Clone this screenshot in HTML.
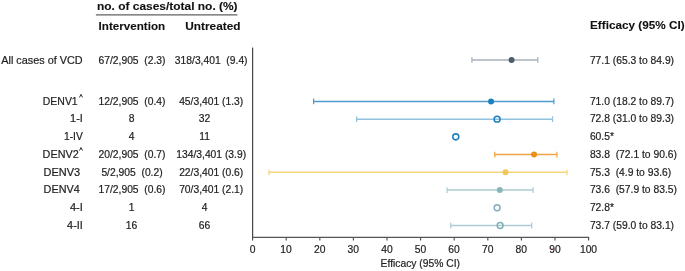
<!DOCTYPE html>
<html><head><meta charset="utf-8"><style>
html,body{margin:0;padding:0;background:#fff;}
svg{display:block;will-change:transform;font-family:"Liberation Sans",sans-serif;}
</style></head><body>
<svg width="685" height="271" viewBox="0 0 685 271">
<text x="97.00" y="9.90" font-size="11.4" font-weight="bold" text-anchor="start" fill="#111" stroke="#111" stroke-width="0.1" textLength="140.6" lengthAdjust="spacingAndGlyphs" >no. of cases/total no. (%)</text>
<line x1="95.9" y1="14.8" x2="237.4" y2="14.8" stroke="#606060" stroke-width="1.3"/>
<text x="98.60" y="29.60" font-size="11.4" font-weight="bold" text-anchor="start" fill="#111" stroke="#111" stroke-width="0.1" textLength="66.6" lengthAdjust="spacingAndGlyphs" >Intervention</text>
<text x="185.30" y="29.60" font-size="11.4" font-weight="bold" text-anchor="start" fill="#111" stroke="#111" stroke-width="0.1" textLength="55.2" lengthAdjust="spacingAndGlyphs" >Untreated</text>
<text x="590.00" y="29.40" font-size="11.4" font-weight="bold" text-anchor="start" fill="#111" stroke="#111" stroke-width="0.1" textLength="94.6" lengthAdjust="spacingAndGlyphs" >Efficacy (95% CI)</text>
<text x="1.30" y="63.60" font-size="10.3" font-weight="normal" text-anchor="start" fill="#1e1e1e" stroke="#1e1e1e" stroke-width="0.2" textLength="81.3" lengthAdjust="spacingAndGlyphs" >All cases of VCD</text>
<text x="42.80" y="104.70" font-size="10.3" font-weight="normal" text-anchor="start" fill="#1e1e1e" stroke="#1e1e1e" stroke-width="0.2" textLength="34.9" lengthAdjust="spacingAndGlyphs" >DENV1</text>
<path d="M79.5,97.40 L81.0,94.30 L82.5,97.40" fill="none" stroke="#333" stroke-width="1.0"/>
<text x="82.90" y="122.43" font-size="10.3" font-weight="normal" text-anchor="end" fill="#1e1e1e" stroke="#1e1e1e" stroke-width="0.2" textLength="12.8" lengthAdjust="spacingAndGlyphs" >1-I</text>
<text x="82.80" y="140.16" font-size="10.3" font-weight="normal" text-anchor="end" fill="#1e1e1e" stroke="#1e1e1e" stroke-width="0.2" >1-IV</text>
<text x="42.60" y="157.89" font-size="10.3" font-weight="normal" text-anchor="start" fill="#1e1e1e" stroke="#1e1e1e" stroke-width="0.2" textLength="36.1" lengthAdjust="spacingAndGlyphs" >DENV2</text>
<path d="M79.5,150.59 L81.0,147.49 L82.5,150.59" fill="none" stroke="#333" stroke-width="1.0"/>
<text x="43.60" y="175.62" font-size="10.3" font-weight="normal" text-anchor="start" fill="#1e1e1e" stroke="#1e1e1e" stroke-width="0.2" textLength="36.6" lengthAdjust="spacingAndGlyphs" >DENV3</text>
<text x="43.60" y="193.35" font-size="10.3" font-weight="normal" text-anchor="start" fill="#1e1e1e" stroke="#1e1e1e" stroke-width="0.2" textLength="36.1" lengthAdjust="spacingAndGlyphs" >DENV4</text>
<text x="82.80" y="211.08" font-size="10.3" font-weight="normal" text-anchor="end" fill="#1e1e1e" stroke="#1e1e1e" stroke-width="0.2" textLength="12.9" lengthAdjust="spacingAndGlyphs" >4-I</text>
<text x="82.80" y="228.81" font-size="10.3" font-weight="normal" text-anchor="end" fill="#1e1e1e" stroke="#1e1e1e" stroke-width="0.2" textLength="15.7" lengthAdjust="spacingAndGlyphs" >4-II</text>
<text x="132.00" y="63.80" font-size="10.3" font-weight="normal" text-anchor="middle" fill="#1e1e1e" stroke="#1e1e1e" stroke-width="0.2" >67/2,905  (2.3)</text>
<text x="211.20" y="63.80" font-size="10.3" font-weight="normal" text-anchor="middle" fill="#1e1e1e" stroke="#1e1e1e" stroke-width="0.2" >318/3,401  (9.4)</text>
<text x="132.00" y="104.70" font-size="10.3" font-weight="normal" text-anchor="middle" fill="#1e1e1e" stroke="#1e1e1e" stroke-width="0.2" >12/2,905  (0.4)</text>
<text x="211.20" y="104.70" font-size="10.3" font-weight="normal" text-anchor="middle" fill="#1e1e1e" stroke="#1e1e1e" stroke-width="0.2" >45/3,401 (1.3)</text>
<text x="132.00" y="157.89" font-size="10.3" font-weight="normal" text-anchor="middle" fill="#1e1e1e" stroke="#1e1e1e" stroke-width="0.2" >20/2,905  (0.7)</text>
<text x="211.20" y="157.89" font-size="10.3" font-weight="normal" text-anchor="middle" fill="#1e1e1e" stroke="#1e1e1e" stroke-width="0.2" >134/3,401 (3.9)</text>
<text x="132.00" y="175.62" font-size="10.3" font-weight="normal" text-anchor="middle" fill="#1e1e1e" stroke="#1e1e1e" stroke-width="0.2" >5/2,905  (0.2)</text>
<text x="211.20" y="175.62" font-size="10.3" font-weight="normal" text-anchor="middle" fill="#1e1e1e" stroke="#1e1e1e" stroke-width="0.2" >22/3,401 (0.6)</text>
<text x="132.00" y="193.35" font-size="10.3" font-weight="normal" text-anchor="middle" fill="#1e1e1e" stroke="#1e1e1e" stroke-width="0.2" >17/2,905  (0.6)</text>
<text x="211.20" y="193.35" font-size="10.3" font-weight="normal" text-anchor="middle" fill="#1e1e1e" stroke="#1e1e1e" stroke-width="0.2" >70/3,401 (2.1)</text>
<text x="131.60" y="122.43" font-size="10.3" font-weight="normal" text-anchor="middle" fill="#1e1e1e" stroke="#1e1e1e" stroke-width="0.2" >8</text>
<text x="204.60" y="122.43" font-size="10.3" font-weight="normal" text-anchor="middle" fill="#1e1e1e" stroke="#1e1e1e" stroke-width="0.2" >32</text>
<text x="131.60" y="140.16" font-size="10.3" font-weight="normal" text-anchor="middle" fill="#1e1e1e" stroke="#1e1e1e" stroke-width="0.2" >4</text>
<text x="204.60" y="140.16" font-size="10.3" font-weight="normal" text-anchor="middle" fill="#1e1e1e" stroke="#1e1e1e" stroke-width="0.2" >11</text>
<text x="131.60" y="211.08" font-size="10.3" font-weight="normal" text-anchor="middle" fill="#1e1e1e" stroke="#1e1e1e" stroke-width="0.2" >1</text>
<text x="204.60" y="211.08" font-size="10.3" font-weight="normal" text-anchor="middle" fill="#1e1e1e" stroke="#1e1e1e" stroke-width="0.2" >4</text>
<text x="131.60" y="228.81" font-size="10.3" font-weight="normal" text-anchor="middle" fill="#1e1e1e" stroke="#1e1e1e" stroke-width="0.2" >16</text>
<text x="204.60" y="228.81" font-size="10.3" font-weight="normal" text-anchor="middle" fill="#1e1e1e" stroke="#1e1e1e" stroke-width="0.2" >66</text>
<text x="589.90" y="64.00" font-size="10.3" font-weight="normal" text-anchor="start" fill="#1e1e1e" stroke="#1e1e1e" stroke-width="0.2" >77.1 (65.3 to 84.9)</text>
<text x="589.90" y="104.70" font-size="10.3" font-weight="normal" text-anchor="start" fill="#1e1e1e" stroke="#1e1e1e" stroke-width="0.2" >71.0 (18.2 to 89.7)</text>
<text x="589.90" y="122.43" font-size="10.3" font-weight="normal" text-anchor="start" fill="#1e1e1e" stroke="#1e1e1e" stroke-width="0.2" >72.8 (31.0 to 89.3)</text>
<text x="589.90" y="140.16" font-size="10.3" font-weight="normal" text-anchor="start" fill="#1e1e1e" stroke="#1e1e1e" stroke-width="0.2" >60.5*</text>
<text x="589.90" y="157.89" font-size="10.3" font-weight="normal" text-anchor="start" fill="#1e1e1e" stroke="#1e1e1e" stroke-width="0.2" >83.8  (72.1 to 90.6)</text>
<text x="589.90" y="175.62" font-size="10.3" font-weight="normal" text-anchor="start" fill="#1e1e1e" stroke="#1e1e1e" stroke-width="0.2" >75.3  (4.9 to 93.6)</text>
<text x="589.90" y="193.35" font-size="10.3" font-weight="normal" text-anchor="start" fill="#1e1e1e" stroke="#1e1e1e" stroke-width="0.2" >73.6  (57.9 to 83.5)</text>
<text x="589.90" y="211.08" font-size="10.3" font-weight="normal" text-anchor="start" fill="#1e1e1e" stroke="#1e1e1e" stroke-width="0.2" >72.8*</text>
<text x="589.90" y="228.81" font-size="10.3" font-weight="normal" text-anchor="start" fill="#1e1e1e" stroke="#1e1e1e" stroke-width="0.2" >73.7 (59.0 to 83.1)</text>
<line x1="252.6" y1="47.6" x2="252.6" y2="237.8" stroke="#4a4a4a" stroke-width="1.25"/>
<line x1="252.0" y1="237.3" x2="589.1" y2="237.3" stroke="#555" stroke-width="1.3"/>
<line x1="252.6" y1="237.3" x2="252.6" y2="240.6" stroke="#555" stroke-width="1.2"/>
<text x="252.50" y="252.90" font-size="10.3" font-weight="normal" text-anchor="middle" fill="#1e1e1e" stroke="#1e1e1e" stroke-width="0.2" >0</text>
<line x1="286.20000000000005" y1="237.3" x2="286.20000000000005" y2="240.6" stroke="#555" stroke-width="1.2"/>
<text x="286.10" y="252.90" font-size="10.3" font-weight="normal" text-anchor="middle" fill="#1e1e1e" stroke="#1e1e1e" stroke-width="0.2" >10</text>
<line x1="319.8" y1="237.3" x2="319.8" y2="240.6" stroke="#555" stroke-width="1.2"/>
<text x="319.70" y="252.90" font-size="10.3" font-weight="normal" text-anchor="middle" fill="#1e1e1e" stroke="#1e1e1e" stroke-width="0.2" >20</text>
<line x1="353.40000000000003" y1="237.3" x2="353.40000000000003" y2="240.6" stroke="#555" stroke-width="1.2"/>
<text x="353.30" y="252.90" font-size="10.3" font-weight="normal" text-anchor="middle" fill="#1e1e1e" stroke="#1e1e1e" stroke-width="0.2" >30</text>
<line x1="387.0" y1="237.3" x2="387.0" y2="240.6" stroke="#555" stroke-width="1.2"/>
<text x="386.90" y="252.90" font-size="10.3" font-weight="normal" text-anchor="middle" fill="#1e1e1e" stroke="#1e1e1e" stroke-width="0.2" >40</text>
<line x1="420.6" y1="237.3" x2="420.6" y2="240.6" stroke="#555" stroke-width="1.2"/>
<text x="420.50" y="252.90" font-size="10.3" font-weight="normal" text-anchor="middle" fill="#1e1e1e" stroke="#1e1e1e" stroke-width="0.2" >50</text>
<line x1="454.20000000000005" y1="237.3" x2="454.20000000000005" y2="240.6" stroke="#555" stroke-width="1.2"/>
<text x="454.10" y="252.90" font-size="10.3" font-weight="normal" text-anchor="middle" fill="#1e1e1e" stroke="#1e1e1e" stroke-width="0.2" >60</text>
<line x1="487.8" y1="237.3" x2="487.8" y2="240.6" stroke="#555" stroke-width="1.2"/>
<text x="487.70" y="252.90" font-size="10.3" font-weight="normal" text-anchor="middle" fill="#1e1e1e" stroke="#1e1e1e" stroke-width="0.2" >70</text>
<line x1="521.4" y1="237.3" x2="521.4" y2="240.6" stroke="#555" stroke-width="1.2"/>
<text x="521.30" y="252.90" font-size="10.3" font-weight="normal" text-anchor="middle" fill="#1e1e1e" stroke="#1e1e1e" stroke-width="0.2" >80</text>
<line x1="555.0" y1="237.3" x2="555.0" y2="240.6" stroke="#555" stroke-width="1.2"/>
<text x="554.90" y="252.90" font-size="10.3" font-weight="normal" text-anchor="middle" fill="#1e1e1e" stroke="#1e1e1e" stroke-width="0.2" >90</text>
<line x1="588.6" y1="237.3" x2="588.6" y2="240.6" stroke="#555" stroke-width="1.2"/>
<text x="588.50" y="252.90" font-size="10.3" font-weight="normal" text-anchor="middle" fill="#1e1e1e" stroke="#1e1e1e" stroke-width="0.2" >100</text>
<text x="420.30" y="266.80" font-size="10.3" font-weight="normal" text-anchor="middle" fill="#1e1e1e" stroke="#1e1e1e" stroke-width="0.2" >Efficacy (95% CI)</text>
<circle cx="553.4" cy="248.3" r="0.8" fill="#e82020"/>
<circle cx="549.9" cy="248.4" r="0.6" fill="#e82020" opacity="0.4"/>
<line x1="471.908" y1="59.90" x2="537.764" y2="59.90" stroke="#a7b0ba" stroke-width="1.5"/>
<line x1="471.908" y1="57.00" x2="471.908" y2="62.80" stroke="#a7b0ba" stroke-width="1.2"/>
<line x1="537.764" y1="57.00" x2="537.764" y2="62.80" stroke="#a7b0ba" stroke-width="1.2"/>
<circle cx="511.556" cy="59.90" r="3.0" fill="#4c5c6f"/>
<line x1="313.652" y1="101.40" x2="553.892" y2="101.40" stroke="#4f9bcb" stroke-width="1.5"/>
<line x1="313.652" y1="98.50" x2="313.652" y2="104.30" stroke="#4f9bcb" stroke-width="1.2"/>
<line x1="553.892" y1="98.50" x2="553.892" y2="104.30" stroke="#4f9bcb" stroke-width="1.2"/>
<circle cx="491.06" cy="101.40" r="3.0" fill="#1f80bf"/>
<line x1="356.65999999999997" y1="119.13" x2="552.548" y2="119.13" stroke="#92c2de" stroke-width="1.5"/>
<line x1="356.65999999999997" y1="116.23" x2="356.65999999999997" y2="122.03" stroke="#92c2de" stroke-width="1.2"/>
<line x1="552.548" y1="116.23" x2="552.548" y2="122.03" stroke="#92c2de" stroke-width="1.2"/>
<circle cx="497.10799999999995" cy="119.13" r="2.95" fill="none" stroke="#1f80bf" stroke-width="1.55"/>
<circle cx="455.78" cy="136.86" r="3.0" fill="none" stroke="#1f80bf" stroke-width="1.55"/>
<line x1="494.756" y1="154.59" x2="556.9159999999999" y2="154.59" stroke="#f0a443" stroke-width="1.5"/>
<line x1="494.756" y1="151.69" x2="494.756" y2="157.49" stroke="#f0a443" stroke-width="1.2"/>
<line x1="556.9159999999999" y1="151.69" x2="556.9159999999999" y2="157.49" stroke="#f0a443" stroke-width="1.2"/>
<circle cx="534.068" cy="154.59" r="3.0" fill="#e8921e"/>
<line x1="268.964" y1="172.32" x2="566.996" y2="172.32" stroke="#f5d47e" stroke-width="1.5"/>
<line x1="268.964" y1="169.42" x2="268.964" y2="175.22" stroke="#f5d47e" stroke-width="1.2"/>
<line x1="566.996" y1="169.42" x2="566.996" y2="175.22" stroke="#f5d47e" stroke-width="1.2"/>
<circle cx="505.508" cy="172.32" r="3.0" fill="#f2c85a"/>
<line x1="447.044" y1="190.05" x2="533.06" y2="190.05" stroke="#acccd2" stroke-width="1.5"/>
<line x1="447.044" y1="187.15" x2="447.044" y2="192.95" stroke="#acccd2" stroke-width="1.2"/>
<line x1="533.06" y1="187.15" x2="533.06" y2="192.95" stroke="#acccd2" stroke-width="1.2"/>
<circle cx="499.79599999999994" cy="190.05" r="3.0" fill="#89b5bd"/>
<circle cx="497.10799999999995" cy="207.78" r="2.95" fill="none" stroke="#7daeb9" stroke-width="1.45"/>
<line x1="450.74" y1="225.51" x2="531.7159999999999" y2="225.51" stroke="#acccd2" stroke-width="1.5"/>
<line x1="450.74" y1="222.61" x2="450.74" y2="228.41" stroke="#acccd2" stroke-width="1.2"/>
<line x1="531.7159999999999" y1="222.61" x2="531.7159999999999" y2="228.41" stroke="#acccd2" stroke-width="1.2"/>
<circle cx="500.132" cy="225.51" r="2.95" fill="none" stroke="#7daeb9" stroke-width="1.45"/>
</svg>
</body></html>
